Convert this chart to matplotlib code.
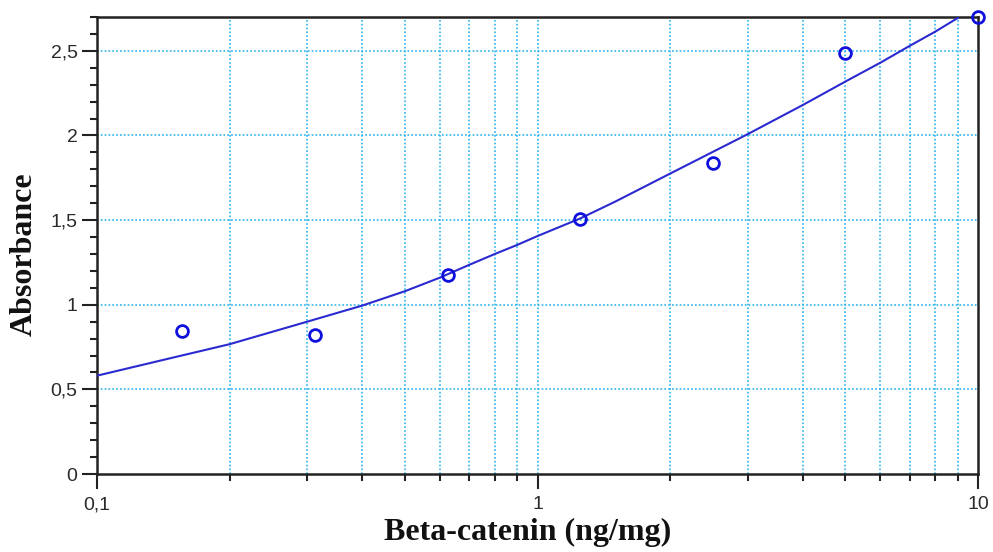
import numpy as np
import matplotlib.pyplot as plt
from matplotlib.ticker import FixedLocator, FixedFormatter, NullFormatter

# Standard points (concentration, absorbance)
conc = [0.156, 0.3125, 0.625, 1.25, 2.5, 5, 10]
absorb = [0.845, 0.82, 1.178, 1.505, 1.837, 2.487, 2.70]

# Fitted standard curve, sampled along the concentration axis
fit_conc = [0.1, 0.15, 0.2, 0.3, 0.4, 0.5, 0.6, 0.7, 0.8, 0.9, 1, 1.25, 1.5,
            2, 3, 4, 5, 6, 7, 8, 9]
fit_abs = [0.581, 0.69, 0.767, 0.900, 0.995, 1.080, 1.160, 1.236, 1.300, 1.354,
           1.406, 1.51, 1.609, 1.775, 2.008, 2.180, 2.319, 2.430, 2.530, 2.614,
           2.695]

xticks = [0.1, 1, 10]
xtick_labels = ['0,1', '1', '10']
yticks = [0, 0.5, 1, 1.5, 2, 2.5]
ytick_labels = ['0', '0,5', '1', '1,5', '2', '2,5']

grid_color = '#2ab4ec'
text_color = '#2a2a2a'

fig = plt.figure(figsize=(9.93, 5.52), dpi=100)
ax = fig.add_axes([0.0977, 0.1413, 0.8873, 0.8279])

ax.set_xscale('log')
ax.set_xlim(0.1, 10)
ax.set_ylim(0, 2.70)

# dotted grid: every decade subdivision on x, every 0.5 on y
minor_x = [m * d for d in (0.1, 1) for m in range(2, 10)]
for xv in minor_x + [1]:
    ax.axvline(xv, color=grid_color, lw=1.2, ls=(0, (1, 1.3)), zorder=0)
for yv in yticks[1:]:
    ax.axhline(yv, color=grid_color, lw=1.2, ls=(0, (1, 1.3)), zorder=0)

ax.plot(fit_conc, fit_abs, color='#2a2ad0', lw=1.5, zorder=3)
ax.plot(conc, absorb, ls='none', marker='o', ms=8.5, mfc='none',
        mec='#1010dd', mew=2, zorder=4, clip_on=False)

ax.xaxis.set_major_locator(FixedLocator(xticks))
ax.xaxis.set_major_formatter(FixedFormatter(xtick_labels))
ax.xaxis.set_minor_locator(FixedLocator(minor_x))
ax.xaxis.set_minor_formatter(NullFormatter())
ax.yaxis.set_major_locator(FixedLocator(yticks))
ax.yaxis.set_major_formatter(FixedFormatter(ytick_labels))
ax.yaxis.set_minor_locator(FixedLocator(np.arange(0.1, 2.71, 0.1)))

ax.tick_params(which='major', direction='out', length=11, width=1.5,
               color='#222222', labelsize=14, labelcolor=text_color, pad=3)
ax.tick_params(which='minor', direction='out', length=5, width=1.5,
               color='#222222')
for lab in ax.get_xticklabels() + ax.get_yticklabels():
    lab.set_family('Liberation Sans')
ax.tick_params(axis='x', which='major', pad=5)

for side in ['left', 'bottom', 'top', 'right']:
    ax.spines[side].set_linewidth(1.8)
    ax.spines[side].set_color('#222222')

ax.set_xlabel('Beta-catenin (ng/mg)', family='Liberation Serif',
              fontweight='bold', fontsize=23, color='#111111')
ax.xaxis.set_label_coords(0.489, -0.097)
ax.set_ylabel('Absorbance', family='Liberation Serif',
              fontweight='bold', fontsize=23, color='#111111')
ax.yaxis.set_label_coords(-0.066, 0.48)

fig.savefig('out.png', dpi=100)
